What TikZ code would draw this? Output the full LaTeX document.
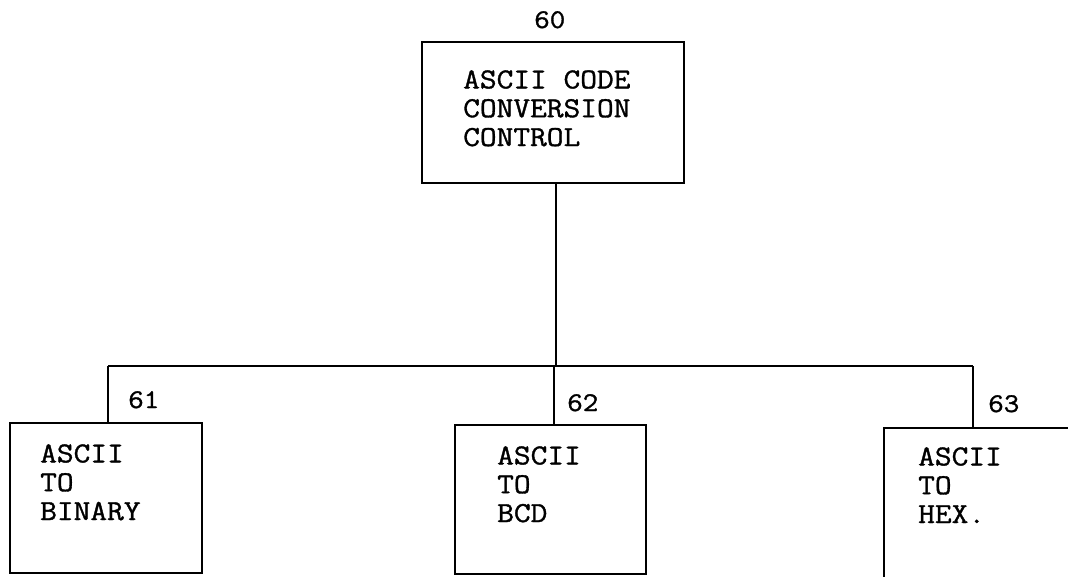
\documentclass[tikz,border=0pt]{standalone}
\usepackage{fontspec}
\newfontfamily\typew[FakeBold=1.2,FakeStretch=1.12]{Latin Modern Mono}
\begin{document}
\begin{tikzpicture}[x=1pt,y=-1pt,
  box/.style={draw, rectangle, line width=2.8pt, inner sep=0pt},
  txt/.style={font=\typew\fontsize{29}{28.8}\selectfont, anchor=base west, inner sep=0pt, align=left},
  num/.style={font=\typew\fontsize{27}{27}\selectfont, anchor=base west, inner sep=0pt},
  wire/.style={line width=2.6pt}]
\useasboundingbox (0,0) rectangle (1068,576);
% boxes
\node[box, minimum width=262pt, minimum height=141pt] (b60) at (553,112.5) {};
\node[box, minimum width=192pt, minimum height=150pt] (b61) at (106,498) {};
\node[box, minimum width=191pt, minimum height=149pt] (b62) at (550.5,499.5) {};
\node[box, minimum width=196pt, minimum height=152pt] (b63) at (982,504) {};
% box texts (anchor on the baseline of the last line)
\node[txt] (t60) at (463,146) {ASCII CODE\\CONVERSION\\CONTROL};
\node[txt] (t61) at (40,520) {ASCII\\TO\\BINARY};
\node[txt] (t62) at (497,522) {ASCII\\TO\\BCD};
\node[txt] (t63) at (918,523) {ASCII\\TO\\HEX.};
% numbers
\node[num] (n60) at (534,28) {60};
\node[num] (n61) at (128,408) {61};
\node[num] (n62) at (567,411) {62};
\node[num] (n63) at (988,412) {63};
% connectors
\coordinate (top) at (556,183);
\coordinate (busM) at (556,366);
\coordinate (busL) at (108,366);
\coordinate (busC) at (554,366);
\coordinate (busR) at (973,366);
\draw[wire] (top) -- (busM);
\draw[wire] (busL) -- (busR);
\draw[wire] (busL) -- (busL |- b61.north);
\draw[wire] (busC) -- (busC |- b62.north);
\draw[wire] (busR) -- (busR |- b63.north);
\end{tikzpicture}
\end{document}
